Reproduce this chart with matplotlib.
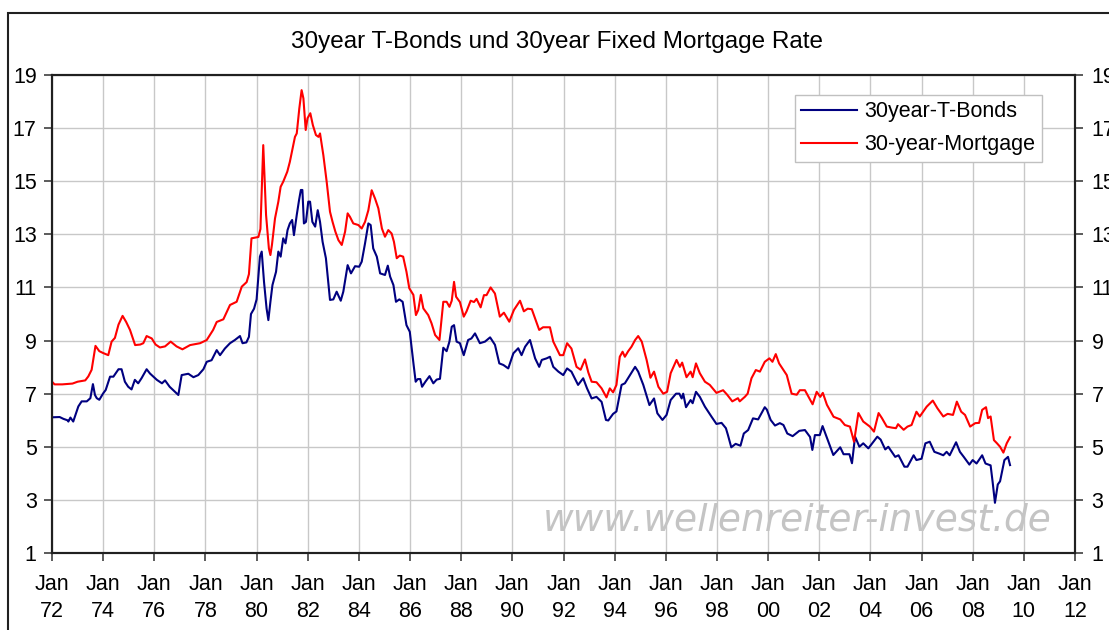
import matplotlib
matplotlib.use("Agg")
import matplotlib.pyplot as plt
from matplotlib.patches import Rectangle
import numpy as np

plt.rcParams['font.family'] = ['Liberation Sans', 'DejaVu Sans']

# 30year T-Bonds (decimal year, yield %)
bond_t = [1972.0, 1972.3, 1972.45, 1972.6, 1972.64, 1972.72, 1972.83, 1973.03, 1973.16, 1973.36,
          1973.5, 1973.6, 1973.68, 1973.75, 1973.85, 1974.0, 1974.1, 1974.27, 1974.4, 1974.6,
          1974.72, 1974.85, 1974.98, 1975.11, 1975.24, 1975.37, 1975.5, 1975.7, 1975.83, 1976.1,
          1976.3, 1976.42, 1976.6, 1976.87, 1976.94, 1977.07, 1977.33, 1977.53, 1977.72, 1977.92,
          1978.05, 1978.24, 1978.44, 1978.57, 1978.76, 1978.96, 1979.15, 1979.35, 1979.45, 1979.6,
          1979.7, 1979.78, 1979.9, 1980.0, 1980.13, 1980.2, 1980.29, 1980.39, 1980.46, 1980.54,
          1980.62, 1980.76, 1980.85, 1980.94, 1981.04, 1981.13, 1981.21, 1981.3, 1981.39, 1981.46,
          1981.57, 1981.66, 1981.73, 1981.79, 1981.85, 1981.93, 1982.02, 1982.09, 1982.18, 1982.29,
          1982.39, 1982.48, 1982.58, 1982.71, 1982.8, 1982.87, 1983.0, 1983.13, 1983.29, 1983.39,
          1983.56, 1983.69, 1983.85, 1984.01, 1984.11, 1984.24, 1984.37, 1984.46, 1984.56, 1984.7,
          1984.83, 1985.02, 1985.13, 1985.22, 1985.35, 1985.45, 1985.58, 1985.71, 1985.86, 1985.99,
          1986.14, 1986.22, 1986.3, 1986.4, 1986.47, 1986.6, 1986.76, 1986.91, 1987.04, 1987.17,
          1987.3, 1987.43, 1987.54, 1987.63, 1987.72, 1987.82, 1987.95, 1988.1, 1988.27, 1988.4,
          1988.54, 1988.73, 1988.93, 1989.13, 1989.32, 1989.49, 1989.65, 1989.84, 1990.04, 1990.23,
          1990.36, 1990.5, 1990.69, 1990.89, 1991.05, 1991.15, 1991.34, 1991.47, 1991.6, 1991.8,
          1991.99, 1992.14, 1992.31, 1992.57, 1992.77, 1992.92, 1993.1, 1993.29, 1993.49, 1993.66,
          1993.75, 1993.94, 1994.07, 1994.27, 1994.4, 1994.6, 1994.8, 1994.92, 1995.12, 1995.36,
          1995.54, 1995.67, 1995.87, 1996.03, 1996.19, 1996.4, 1996.53, 1996.62, 1996.68, 1996.79,
          1996.97, 1997.05, 1997.18, 1997.33, 1997.53, 1997.79, 1997.98, 1998.18, 1998.35, 1998.43,
          1998.56, 1998.73, 1998.92, 1999.05, 1999.22, 1999.41, 1999.61, 1999.87, 1999.95, 2000.1,
          2000.27, 2000.46, 2000.6, 2000.75, 2000.96, 2001.22, 2001.44, 2001.64, 2001.73, 2001.83,
          2002.02, 2002.13, 2002.26, 2002.55, 2002.82, 2002.95, 2003.18, 2003.28, 2003.4, 2003.57,
          2003.72, 2003.92, 2004.27, 2004.4, 2004.58, 2004.7, 2004.97, 2005.1, 2005.33, 2005.45,
          2005.69, 2005.8, 2006.0, 2006.15, 2006.32, 2006.5, 2006.7, 2006.85, 2006.98, 2007.1,
          2007.35, 2007.5, 2007.65, 2007.87, 2008.0, 2008.15, 2008.37, 2008.5, 2008.7, 2008.78,
          2008.87, 2008.98, 2009.07, 2009.24, 2009.38, 2009.46]
bond_v = [6.11, 6.12, 6.05, 6.0, 5.95, 6.1, 5.95, 6.52, 6.71, 6.71,
          6.83, 7.36, 6.95, 6.83, 6.77, 7.01, 7.14, 7.64, 7.64, 7.92,
          7.92, 7.45, 7.26, 7.16, 7.52, 7.39, 7.58, 7.92, 7.76, 7.52,
          7.39, 7.5, 7.26, 7.01, 6.95, 7.7, 7.75, 7.62, 7.7, 7.92,
          8.2, 8.26, 8.64, 8.45, 8.7, 8.9, 9.02, 9.17, 8.9, 8.93,
          9.14, 10.0, 10.2, 10.55, 12.16, 12.35, 11.21, 10.21, 9.77, 10.46,
          11.09, 11.59, 12.35, 12.16, 12.85, 12.66, 13.16, 13.41, 13.54, 12.97,
          13.73, 14.29, 14.67, 14.67, 13.41, 13.47, 14.23, 14.23, 13.47, 13.29,
          13.91, 13.47, 12.72, 12.1, 11.21, 10.53, 10.55, 10.84, 10.5, 10.84,
          11.84, 11.53, 11.8, 11.78, 11.97, 12.66, 13.41, 13.35, 12.47, 12.16,
          11.53, 11.47, 11.82, 11.41, 11.09, 10.46, 10.55, 10.46, 9.58, 9.33,
          8.08, 7.45, 7.55, 7.55, 7.26, 7.45, 7.66, 7.39, 7.53, 7.56,
          8.73, 8.6, 8.96, 9.52, 9.58, 8.96, 8.9, 8.45, 9.02, 9.08,
          9.27, 8.9, 8.96, 9.12, 8.84, 8.14, 8.08, 7.95, 8.52, 8.71,
          8.45, 8.77, 9.02, 8.33, 8.01, 8.27, 8.33, 8.39, 8.01, 7.83,
          7.7, 7.95, 7.83, 7.33, 7.58, 7.2, 6.82, 6.88, 6.69, 6.01,
          5.99, 6.24, 6.33, 7.33, 7.39, 7.7, 8.01, 7.83, 7.33, 6.57,
          6.82, 6.26, 6.01, 6.2, 6.76, 7.0, 7.0, 6.82, 7.0, 6.49,
          6.76, 6.64, 7.07, 6.88, 6.51, 6.13, 5.86, 5.9, 5.7, 5.44,
          4.98, 5.11, 5.04, 5.5, 5.63, 6.07, 6.03, 6.49, 6.4, 6.01,
          5.8, 5.89, 5.82, 5.5, 5.4, 5.6, 5.63, 5.37, 4.88, 5.44,
          5.44, 5.78, 5.44, 4.69, 4.98, 4.72, 4.72, 4.38, 5.38, 5.0,
          5.13, 4.94, 5.38, 5.27, 4.9, 5.0, 4.62, 4.68, 4.25, 4.25,
          4.68, 4.5, 4.55, 5.13, 5.19, 4.81, 4.74, 4.68, 4.81, 4.68,
          5.17, 4.81, 4.62, 4.33, 4.5, 4.37, 4.68, 4.37, 4.3, 3.67,
          2.89, 3.58, 3.7, 4.5, 4.62, 4.31]

# 30-year Mortgage (decimal year, rate %)
mort_t = [1972.0, 1972.1, 1972.4, 1972.8, 1973.0, 1973.3, 1973.42, 1973.55, 1973.7, 1973.85,
          1974.0, 1974.2, 1974.33, 1974.46, 1974.6, 1974.76, 1974.9, 1975.05, 1975.25, 1975.45,
          1975.57, 1975.7, 1975.9, 1976.05, 1976.22, 1976.42, 1976.64, 1976.87, 1977.1, 1977.4,
          1977.79, 1978.05, 1978.3, 1978.44, 1978.7, 1978.96, 1979.22, 1979.42, 1979.61, 1979.7,
          1979.8, 1980.07, 1980.15, 1980.26, 1980.37, 1980.48, 1980.54, 1980.6, 1980.72, 1980.85,
          1980.94, 1981.04, 1981.2, 1981.3, 1981.41, 1981.5, 1981.57, 1981.67, 1981.76, 1981.83,
          1981.92, 1981.99, 1982.1, 1982.2, 1982.32, 1982.42, 1982.48, 1982.61, 1982.74, 1982.87,
          1982.97, 1983.08, 1983.2, 1983.33, 1983.46, 1983.56, 1983.65, 1983.78, 1983.98, 1984.11,
          1984.24, 1984.37, 1984.5, 1984.63, 1984.76, 1984.9, 1985.02, 1985.15, 1985.28, 1985.37,
          1985.48, 1985.6, 1985.73, 1985.86, 1985.97, 1986.13, 1986.23, 1986.32, 1986.42, 1986.52,
          1986.71, 1986.84, 1986.98, 1987.15, 1987.3, 1987.43, 1987.54, 1987.63, 1987.72, 1987.8,
          1987.95, 1988.1, 1988.21, 1988.37, 1988.5, 1988.6, 1988.76, 1988.89, 1988.99, 1989.15,
          1989.32, 1989.51, 1989.67, 1989.88, 1990.06, 1990.3, 1990.45, 1990.6, 1990.76, 1991.05,
          1991.2, 1991.47, 1991.6, 1991.86, 1991.99, 1992.14, 1992.31, 1992.51, 1992.67, 1992.84,
          1992.97, 1993.1, 1993.29, 1993.49, 1993.68, 1993.81, 1993.94, 1994.07, 1994.2, 1994.31,
          1994.4, 1994.53, 1994.66, 1994.8, 1994.92, 1995.06, 1995.25, 1995.4, 1995.54, 1995.71,
          1995.9, 1996.05, 1996.19, 1996.42, 1996.55, 1996.64, 1996.81, 1996.97, 1997.05, 1997.18,
          1997.33, 1997.53, 1997.72, 1997.98, 1998.24, 1998.4, 1998.6, 1998.82, 1998.89, 1999.09,
          1999.2, 1999.35, 1999.52, 1999.68, 1999.87, 2000.05, 2000.17, 2000.3, 2000.43, 2000.6,
          2000.73, 2000.92, 2001.12, 2001.24, 2001.44, 2001.57, 2001.74, 2001.9, 2002.04, 2002.14,
          2002.3, 2002.56, 2002.82, 2003.0, 2003.2, 2003.36, 2003.53, 2003.72, 2003.98, 2004.14,
          2004.32, 2004.45, 2004.64, 2004.85, 2005.0, 2005.08, 2005.3, 2005.45, 2005.61, 2005.8,
          2005.93, 2006.2, 2006.44, 2006.62, 2006.85, 2007.02, 2007.23, 2007.38, 2007.55, 2007.7,
          2007.9, 2008.1, 2008.25, 2008.37, 2008.52, 2008.6, 2008.7, 2008.83, 2008.95, 2009.07,
          2009.2, 2009.33, 2009.46]
mort_v = [7.45, 7.35, 7.35, 7.38, 7.45, 7.5, 7.65, 7.9, 8.8, 8.6,
          8.53, 8.45, 8.96, 9.1, 9.6, 9.93, 9.7, 9.4, 8.83, 8.85,
          8.9, 9.17, 9.08, 8.85, 8.74, 8.78, 8.96, 8.78, 8.67, 8.83,
          8.9, 9.02, 9.4, 9.7, 9.8, 10.34, 10.46, 11.03, 11.2, 11.5,
          12.85, 12.9, 13.2, 16.36, 13.73, 12.47, 12.22, 12.6, 13.6, 14.23,
          14.79, 14.98, 15.36, 15.73, 16.24, 16.67, 16.8, 17.74, 18.43, 18.12,
          16.93, 17.37, 17.56, 17.11, 16.74, 16.67, 16.8, 15.98, 14.98, 13.85,
          13.47, 13.1, 12.78, 12.6, 13.1, 13.79, 13.66, 13.41, 13.35, 13.22,
          13.47, 13.91, 14.66, 14.35, 13.98, 13.22, 12.91, 13.16, 13.03, 12.72,
          12.1, 12.2, 12.16, 11.59, 10.97, 10.72, 9.96, 10.15, 10.72, 10.21,
          9.96, 9.65, 9.21, 9.02, 10.46, 10.46, 10.27, 10.5, 11.21, 10.65,
          10.45, 9.9, 10.1, 10.5, 10.45, 10.57, 10.25, 10.71, 10.71, 11.0,
          10.77, 9.9, 10.05, 9.71, 10.15, 10.5, 10.1, 10.2, 10.18, 9.4,
          9.5, 9.5, 8.96, 8.45, 8.45, 8.9, 8.7, 8.01, 7.9, 8.29,
          7.8, 7.45, 7.43, 7.2, 6.86, 7.2, 7.05, 7.33, 8.39, 8.58,
          8.39, 8.6, 8.77, 9.02, 9.17, 8.96, 8.27, 7.6, 7.83, 7.26,
          7.0, 7.07, 7.77, 8.27, 8.01, 8.17, 7.62, 7.83, 7.62, 8.14,
          7.77, 7.45, 7.33, 7.03, 7.13, 6.96, 6.71, 6.83, 6.71, 6.88,
          7.0, 7.58, 7.89, 7.83, 8.2, 8.33, 8.2, 8.49, 8.14, 7.89,
          7.7, 7.0, 6.96, 7.13, 7.13, 6.9, 6.6, 7.07, 6.88, 7.03,
          6.58, 6.13, 6.03, 5.82, 5.76, 5.19, 6.27, 5.95, 5.76, 5.57,
          6.27, 6.08, 5.76, 5.72, 5.7, 5.85, 5.64, 5.76, 5.82, 6.32,
          6.14, 6.51, 6.74, 6.45, 6.14, 6.24, 6.2, 6.7, 6.32, 6.2,
          5.76, 5.89, 5.9, 6.39, 6.49, 6.08, 6.14, 5.25, 5.13, 5.0,
          4.78, 5.13, 5.36]

year_ticks = list(range(1972, 2013, 2))
year_labels = ['Jan\n%02d' % (y % 100) for y in year_ticks]
rate_ticks = list(range(1, 20, 2))

W, H = 1109, 630
fig = plt.figure(figsize=(W / 100, H / 100), dpi=100)
ax = fig.add_axes([52 / W, 1 - 553 / H, (1075 - 52) / W, (553 - 75) / H])

ax.plot(bond_t, bond_v, color='#000080', lw=1.5, label='30year-T-Bonds', zorder=3)
ax.plot(mort_t, mort_v, color='#ff0000', lw=1.5, label='30-year-Mortgage', zorder=3)

ax.set_xlim(1972, 2012)
ax.set_ylim(1, 19)
ax.set_xticks(year_ticks)
ax.set_xticklabels(year_labels, fontsize=15.5, linespacing=1.4)
ax.set_yticks(rate_ticks)
ax.set_yticklabels([str(v) for v in rate_ticks], fontsize=15.5)
ax.grid(True, color='#c8c8c8', lw=1.0)
ax.set_axisbelow(True)
ax.tick_params(direction='out', length=6, width=1.2, color='#404040', pad=5)
ax.tick_params(axis='x', pad=9)
for s in ax.spines.values():
    s.set_linewidth(1.5)
    s.set_color('#202020')

ax2 = ax.twinx()
ax2.set_ylim(1, 19)
ax2.set_yticks(rate_ticks)
ax2.set_yticklabels([str(v) for v in rate_ticks], fontsize=15.5)
ax2.tick_params(direction='out', length=6, width=1.2, color='#404040', pad=6)
for s in ax2.spines.values():
    s.set_linewidth(1.5)
    s.set_color('#202020')

fig.text(557 / W, 1 - 42 / H, '30year T-Bonds und 30year Fixed Mortgage Rate',
         ha='center', va='center', fontsize=17.5)

ax.text(1000 / 1023, 0.069, 'www.wellenreiter-invest.de', transform=ax.transAxes,
        ha='right', va='center', fontsize=27, style='italic', color='#c4c4c4',
        family='DejaVu Sans', zorder=2)

leg = ax.legend(loc='upper right', bbox_to_anchor=(1042 / W, 1 - 95 / H),
                bbox_transform=fig.transFigure, borderaxespad=0, fontsize=15.5,
                fancybox=False, framealpha=1, edgecolor='#c0c0c0',
                handlelength=2.6, handletextpad=0.35, borderpad=0.3, labelspacing=0.55)
leg.get_frame().set_linewidth(1.0)

# outer chart border (cropped at right/bottom)
fig.patches.append(Rectangle((8 / W, -0.2), 2.0, 1 - 13 / H + 0.2, transform=fig.transFigure,
                             fill=False, edgecolor='#202020', lw=1.5, clip_on=False))

fig.savefig('out.png', dpi=100)
